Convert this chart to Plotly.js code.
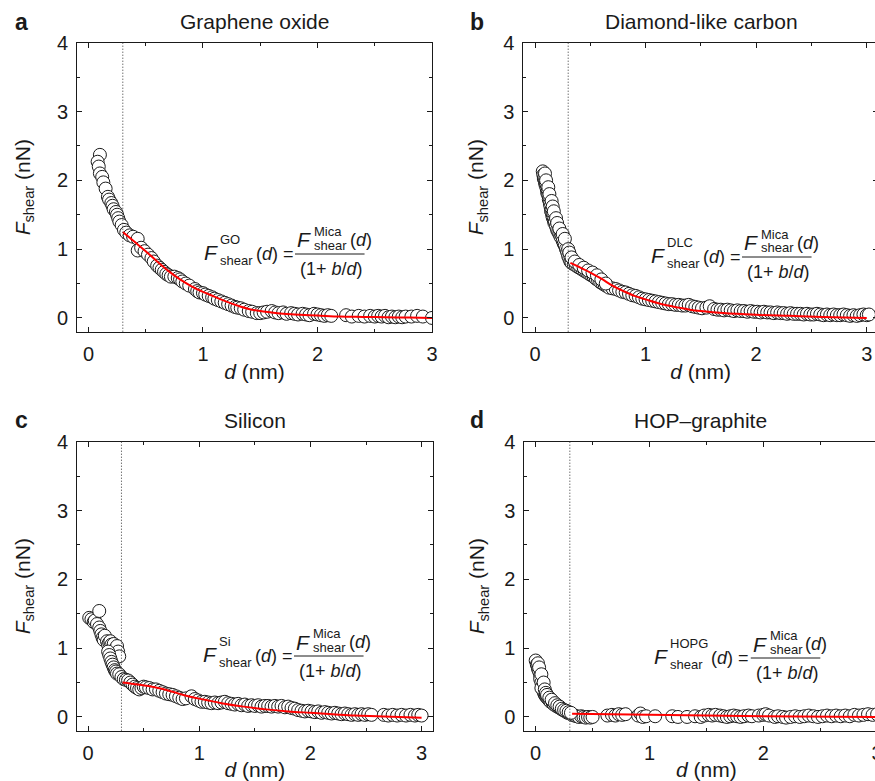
<!DOCTYPE html>
<html><head><meta charset="utf-8">
<script src="https://cdn.plot.ly/plotly-3.0.1.min.js"></script>
<style>html,body{margin:0;padding:0;overflow:hidden;background:#fff;}#chart{width:900px;height:781px;}</style>
</head><body><div id="chart"></div>
<script>
// ---------- data ----------
const panelLetters = ['a', 'b', 'c', 'd'];
const panelTitles = ['Graphene oxide', 'Diamond-like carbon', 'Silicon', 'HOP\u2013graphite'];
const materialLabels = ['GO', 'DLC', 'Si', 'HOPG'];
const xTickVals = [0, 1, 2, 3];
const yTickVals = [0, 1, 2, 3, 4];
const cutoffD = 0.3;

const goD = [0.10,0.08,0.09,0.10,0.12,0.13,0.15,0.17,0.18,0.20,0.21,0.22,0.24,0.25,0.26,0.27,0.29,0.31,0.33,0.36,0.39,0.43,0.43,0.46,0.49,0.52,0.55,0.57,0.60,0.62,0.64,0.66,0.68,0.70,0.72,0.75,0.78,0.80,0.82,0.85,0.88,0.93,0.95,0.97,1.00,1.02,1.05,1.08,1.10,1.13,1.16,1.19,1.22,1.25,1.28,1.30,1.33,1.36,1.40,1.43,1.47,1.50,1.53,1.56,1.60,1.63,1.66,1.70,1.73,1.77,1.80,1.83,1.87,1.90,1.93,1.97,2.00,2.03,2.06,2.09,2.12,2.25,2.30,2.36,2.41,2.46,2.50,2.53,2.56,2.59,2.62,2.65,2.68,2.71,2.74,2.77,2.82,2.87,2.92,3.00];
const goF = [2.37,2.27,2.20,2.10,2.05,1.97,1.88,1.76,1.72,1.67,1.63,1.58,1.54,1.50,1.45,1.40,1.35,1.28,1.24,1.20,1.18,1.15,0.98,1.02,0.97,0.92,0.87,0.82,0.76,0.73,0.70,0.67,0.64,0.62,0.60,0.60,0.58,0.56,0.53,0.50,0.47,0.42,0.39,0.37,0.36,0.34,0.32,0.30,0.28,0.26,0.24,0.22,0.20,0.18,0.16,0.15,0.14,0.12,0.10,0.09,0.07,0.07,0.08,0.09,0.10,0.08,0.07,0.08,0.06,0.07,0.06,0.05,0.06,0.05,0.04,0.06,0.05,0.04,0.03,0.04,0.03,0.04,0.02,0.03,0.02,0.03,0.02,0.03,0.02,0.03,0.01,0.02,0.01,0.02,0.01,0.02,0.02,0.03,0.02,0.00];
const goFitD = [0.3,0.4,0.5,0.6,0.7,0.8,0.9,1.0,1.1,1.2,1.3,1.4,1.5,1.6,1.7,1.8,2.0,2.2,2.4,2.6,2.8,3.0];
const goFitF = [1.25,1.11,0.97,0.82,0.68,0.56,0.46,0.38,0.31,0.24,0.18,0.13,0.10,0.08,0.06,0.05,0.035,0.02,0.015,0.01,0.005,0.0];

const dlcD = [0.070,0.075,0.080,0.085,0.090,0.095,0.100,0.105,0.110,0.115,0.120,0.125,0.130,0.135,0.140,0.145,0.150,0.155,0.160,0.165,0.170,0.175,0.180,0.190,0.200,0.210,0.220,0.230,0.240,0.250,0.260,0.270,0.280,0.290,0.300,0.310,0.320,0.330,0.350,0.370,0.390,0.410,0.430,0.450,0.470,0.490,0.510,0.530,0.550,0.570,0.590,0.610,0.630,0.650,0.670,0.700,0.730,0.760,0.790,0.820,0.850,0.880,0.910,0.940,0.970,1.000,1.030,1.060,1.090,1.120,1.150,1.180,1.210,1.240,1.270,1.300,1.330,1.360,1.390,1.420,1.450,1.480,1.510,1.550,1.580,1.620,1.650,1.680,1.710,1.740,1.770,1.800,1.830,1.860,1.890,1.920,1.950,1.980,2.010,2.040,2.070,2.100,2.130,2.160,2.190,2.220,2.250,2.280,2.310,2.340,2.370,2.400,2.430,2.460,2.490,2.520,2.550,2.580,2.610,2.640,2.670,2.700,2.730,2.760,2.790,2.820,2.850,2.880,2.910,2.940,2.970,3.000,3.020,
  0.09,0.10,0.12,0.13,0.15,0.16,0.17,0.19,0.20,0.22,0.25,0.27,0.30,0.31,0.33,0.36,0.40,0.44,0.48,0.52,0.56,0.60,0.64];
const dlcF = [2.13,2.08,2.02,2.05,1.97,1.93,1.95,1.88,1.82,1.85,1.78,1.72,1.75,1.66,1.62,1.55,1.58,1.50,1.46,1.52,1.42,1.38,1.40,1.33,1.28,1.25,1.22,1.18,1.20,1.12,1.08,1.05,1.00,0.96,0.90,0.86,0.82,0.80,0.78,0.76,0.74,0.72,0.70,0.68,0.66,0.64,0.62,0.60,0.57,0.55,0.52,0.50,0.48,0.46,0.44,0.43,0.42,0.40,0.38,0.37,0.35,0.33,0.32,0.30,0.28,0.27,0.26,0.25,0.24,0.23,0.22,0.21,0.20,0.20,0.19,0.19,0.18,0.18,0.19,0.17,0.16,0.15,0.14,0.15,0.17,0.13,0.12,0.12,0.11,0.12,0.11,0.10,0.11,0.10,0.10,0.09,0.10,0.09,0.09,0.08,0.09,0.08,0.08,0.07,0.08,0.07,0.07,0.06,0.07,0.06,0.06,0.06,0.05,0.06,0.05,0.05,0.06,0.05,0.04,0.05,0.04,0.05,0.04,0.04,0.05,0.04,0.03,0.04,0.03,0.04,0.05,0.04,0.05,
  2.10,2.00,1.90,1.80,1.70,1.62,1.55,1.45,1.38,1.30,1.22,1.15,1.00,0.95,0.88,0.82,0.77,0.73,0.69,0.66,0.62,0.56,0.50];
const dlcFitD = [0.32,0.4,0.5,0.6,0.7,0.8,0.9,1.0,1.1,1.2,1.3,1.4,1.5,1.7,2.0,2.3,2.6,3.0];
const dlcFitF = [0.80,0.74,0.66,0.57,0.47,0.39,0.32,0.27,0.22,0.18,0.15,0.12,0.10,0.07,0.045,0.03,0.015,0.0];

const siD = [0.01,0.03,0.05,0.06,0.08,0.10,0.10,0.11,0.12,0.13,0.14,0.15,0.17,0.18,0.19,0.20,0.21,0.22,0.23,0.25,0.26,0.27,0.28,0.18,0.19,0.20,0.21,0.22,0.23,0.24,0.25,0.26,0.28,0.30,0.32,0.34,0.36,0.38,0.40,0.42,0.44,0.46,0.48,0.50,0.52,0.55,0.58,0.61,0.64,0.67,0.70,0.73,0.76,0.79,0.82,0.85,0.88,0.93,0.96,0.99,1.02,1.05,1.08,1.11,1.14,1.17,1.20,1.23,1.26,1.29,1.32,1.35,1.38,1.41,1.44,1.47,1.50,1.53,1.56,1.59,1.62,1.65,1.68,1.71,1.74,1.77,1.80,1.83,1.86,1.89,1.92,1.95,1.98,2.01,2.04,2.07,2.10,2.13,2.16,2.19,2.22,2.25,2.28,2.31,2.34,2.37,2.40,2.43,2.46,2.49,2.52,2.55,2.66,2.70,2.74,2.78,2.82,2.86,2.90,2.94,2.97,3.00];
const siF = [1.44,1.42,1.38,1.40,1.35,1.54,1.30,1.25,1.20,1.15,1.12,1.18,1.10,1.05,1.08,1.10,1.05,1.00,1.06,1.00,1.03,0.95,0.88,0.95,0.90,0.85,0.80,0.76,0.72,0.68,0.66,0.63,0.62,0.58,0.55,0.54,0.53,0.50,0.47,0.44,0.42,0.40,0.42,0.44,0.43,0.42,0.40,0.40,0.38,0.36,0.34,0.33,0.32,0.30,0.28,0.26,0.27,0.30,0.26,0.24,0.22,0.22,0.21,0.20,0.21,0.20,0.21,0.22,0.20,0.19,0.18,0.19,0.17,0.18,0.16,0.17,0.16,0.17,0.15,0.16,0.16,0.15,0.16,0.15,0.16,0.14,0.15,0.13,0.12,0.10,0.09,0.08,0.09,0.08,0.07,0.08,0.06,0.07,0.06,0.05,0.06,0.05,0.04,0.05,0.04,0.03,0.04,0.03,0.04,0.03,0.04,0.03,0.03,0.02,0.03,0.02,0.03,0.02,0.03,0.02,0.03,0.02];
const siFitD = [0.31,0.45,0.6,0.75,0.9,1.05,1.2,1.4,1.6,1.8,2.0,2.2,2.4,2.6,2.8,3.0];
const siFitF = [0.50,0.47,0.43,0.37,0.30,0.25,0.20,0.15,0.11,0.08,0.06,0.04,0.02,0.01,0.0,-0.01];

const hopgD = [0.00,0.01,0.02,0.03,0.04,0.04,0.05,0.06,0.06,0.07,0.08,0.09,0.10,0.11,0.12,0.13,0.15,0.16,0.18,0.20,0.22,0.24,0.26,0.28,0.30,0.32,0.34,0.36,0.38,0.40,0.42,0.44,0.46,0.48,0.50,0.63,0.67,0.70,0.73,0.76,0.79,0.90,0.92,0.94,0.97,1.05,1.20,1.25,1.33,1.40,1.45,1.48,1.52,1.55,1.58,1.62,1.65,1.68,1.71,1.74,1.77,1.80,1.83,1.87,1.90,1.96,2.00,2.02,2.05,2.10,2.13,2.17,2.20,2.24,2.28,2.32,2.36,2.40,2.44,2.48,2.52,2.56,2.60,2.64,2.68,2.72,2.76,2.80,2.84,2.88,2.92,2.96,3.00,
  0.02,0.03,0.05,0.05,0.07,0.08,0.09,0.10,0.12,0.14,0.17,0.19,0.21,0.23,0.25,0.27,0.29,0.31];
const hopgF = [0.82,0.76,0.70,0.66,0.60,0.55,0.50,0.45,0.40,0.36,0.32,0.30,0.28,0.26,0.24,0.22,0.20,0.18,0.16,0.14,0.12,0.10,0.08,0.06,0.05,0.03,0.02,0.01,0.00,0.01,0.00,-0.01,0.00,-0.01,0.00,0.02,0.03,0.02,0.04,0.03,0.04,0.02,0.05,0.00,0.01,0.01,0.01,0.00,0.00,0.01,0.00,0.02,0.03,0.02,0.03,0.02,0.01,0.00,0.01,0.02,0.01,0.00,0.01,0.02,0.01,0.02,0.03,0.04,0.02,0.00,0.01,0.00,-0.01,0.00,0.01,0.00,0.01,0.02,0.01,0.00,0.01,0.02,0.01,0.02,0.01,0.02,0.01,0.03,0.02,0.03,0.04,0.03,0.04,
  0.78,0.72,0.62,0.42,0.50,0.40,0.35,0.32,0.28,0.25,0.20,0.17,0.15,0.12,0.10,0.09,0.07,0.06];
const hopgFitD = [0.32,1.0,2.0,3.0];
const hopgFitF = [0.045,0.03,0.01,0.0];

const seriesD = [goD, dlcD, siD, hopgD];
const seriesF = [goF, dlcF, siF, hopgF];
const fitD = [goFitD, dlcFitD, siFitD, hopgFitD];
const fitF = [goFitF, dlcFitF, siFitF, hopgFitF];

// ---------- layout geometry (px) ----------
const W = 900, H = 781;
const FAM = 'Liberation Sans';
const FONT = 'Liberation Sans, Arial, Helvetica, sans-serif';
const INK = '#1a1a1a';
const panels = [
  {l: 77,    r: 432,   t: 42.7,  b: 331.7, xr: [-0.1, 3.0],   title: [254, 22],  letter: [14, 22],  fx: 203, ly: 254, ysd: 20},
  {l: 523.3, r: 877.8, t: 42.7,  b: 331.7, xr: [-0.106, 3.1], title: [701, 22],  letter: [469, 22], fx: 650, ly: 257, ysd: 13},
  {l: 77,    r: 432.7, t: 441.7, b: 730.7, xr: [-0.1, 3.1],   title: [255, 420], letter: [14, 420], fx: 202, ly: 656, ysd: 20},
  {l: 524.3, r: 888.5, t: 441.7, b: 730.7, xr: [-0.1, 3.1],   title: [700, 420], letter: [469, 420],fx: 653, ly: 658, ysd: 13}
];
const px = v => v / W;
const py = v => 1 - v / H;

const cv = document.createElement('canvas').getContext('2d');
function tw(text, size) { cv.font = size + 'px "' + FAM + '"'; return cv.measureText(text).width; }

const data = [];
const layout = {
  width: W, height: H, margin: {l: 0, r: 0, t: 0, b: 0},
  paper_bgcolor: '#fff', plot_bgcolor: 'rgba(0,0,0,0)',
  showlegend: false, font: {family: FONT, color: INK, size: 20},
  annotations: [], shapes: []
};

function ann(x, y, text, size, opts) {
  return Object.assign({xref: 'paper', yref: 'paper', x: px(x), y: py(y), text: text, showarrow: false,
    xanchor: 'left', yanchor: 'middle', borderpad: 0, font: {family: FONT, size: size, color: INK}}, opts || {});
}

const SMALL = 13, MID = 18, BIG = 21;

panels.forEach((p, i) => {
  const n = i + 1;
  const xa = 'x' + n, ya = 'y' + n;
  const axStyle = {
    showline: true, linecolor: INK, linewidth: 1, mirror: 'ticks',
    ticks: 'inside', ticklen: 5, tickwidth: 1, tickcolor: INK,
    showgrid: false, zeroline: false, tick0: 0, dtick: 1,
    minor: {dtick: 0.5, tick0: 0, ticks: 'inside', ticklen: 3, tickcolor: INK, showgrid: false},
    tickfont: {family: FONT, size: 20, color: INK}, ticklabelstandoff: 4
  };
  layout['xaxis' + n] = Object.assign({}, axStyle, {
    domain: [px(p.l), px(p.r)], range: p.xr, anchor: ya,
    tickvals: xTickVals,
    title: {text: '<i>d</i> (nm)', font: {family: FONT, size: 21, color: INK}, standoff: 0}
  });
  layout['yaxis' + n] = Object.assign({}, axStyle, {
    domain: [py(p.b), py(p.t)], range: [-0.2, 4], anchor: xa,
    tickvals: yTickVals,
    title: {text: '<i>F</i><sub>shear</sub> (nN)', font: {family: FONT, size: 21, color: INK}, standoff: p.ysd}
  });

  // cutoff dotted line
  layout.shapes.push({type: 'line', xref: xa, yref: ya + ' domain', x0: cutoffD, x1: cutoffD, y0: 0, y1: 1,
    line: {color: '#333', width: 1, dash: '1px,2px'}});

  data.push({type: 'scatter', mode: 'markers', x: seriesD[i], y: seriesF[i], xaxis: xa, yaxis: ya,
    marker: {symbol: 'circle', size: 13, color: '#fff', line: {color: INK, width: 1}}});
  data.push({type: 'scatter', mode: 'lines', x: fitD[i], y: fitF[i], xaxis: xa, yaxis: ya,
    line: {color: '#ff0000', width: 2, shape: 'spline'}});

  // titles & letters
  layout.annotations.push(ann(p.title[0], p.title[1], panelTitles[i], 21, {xanchor: 'center'}));
  layout.annotations.push(ann(p.letter[0], p.letter[1], '<b>' + panelLetters[i] + '</b>', 23));

  // formula  F^X_shear(d) = F^Mica_shear(d) / (1 + b/d)
  const fx = p.fx, ly = p.ly;
  const subW = Math.max(tw(materialLabels[i], SMALL), tw('shear', SMALL));
  const dEqX = fx + 16 + subW + 3;
  const L0 = dEqX + tw('(d) =', MID) + 3;
  const numSubW = Math.max(tw('Mica', SMALL), tw('shear', SMALL));
  const numDX = L0 + 18 + numSubW + 3;
  const L1 = numDX + tw('(d)', MID) - 6;
  layout.annotations.push(ann(fx, ly - 1.5, '<i>F</i>', BIG));
  layout.annotations.push(ann(fx + 16, ly - 15, materialLabels[i], SMALL));
  layout.annotations.push(ann(fx + 16, ly + 6, 'shear', SMALL));
  layout.annotations.push(ann(dEqX, ly, '(<i>d</i>) =', MID));
  layout.shapes.push({type: 'line', xref: 'paper', yref: 'paper', x0: px(L0), x1: px(L1), y0: py(ly), y1: py(ly),
    line: {color: INK, width: 1}});
  layout.annotations.push(ann(L0 + 1, ly - 14, '<i>F</i>', BIG));
  layout.annotations.push(ann(L0 + 18, ly - 23, 'Mica', SMALL));
  layout.annotations.push(ann(L0 + 18, ly - 9, 'shear', SMALL));
  layout.annotations.push(ann(numDX, ly - 14, '(<i>d</i>)', MID));
  layout.annotations.push(ann((L0 + L1) / 2 + 2, ly + 15, '(1+ <i>b</i>/<i>d</i>)', MID, {xanchor: 'center'}));
});

Plotly.newPlot('chart', data, layout, {staticPlot: true, displayModeBar: false});
</script></body></html>
